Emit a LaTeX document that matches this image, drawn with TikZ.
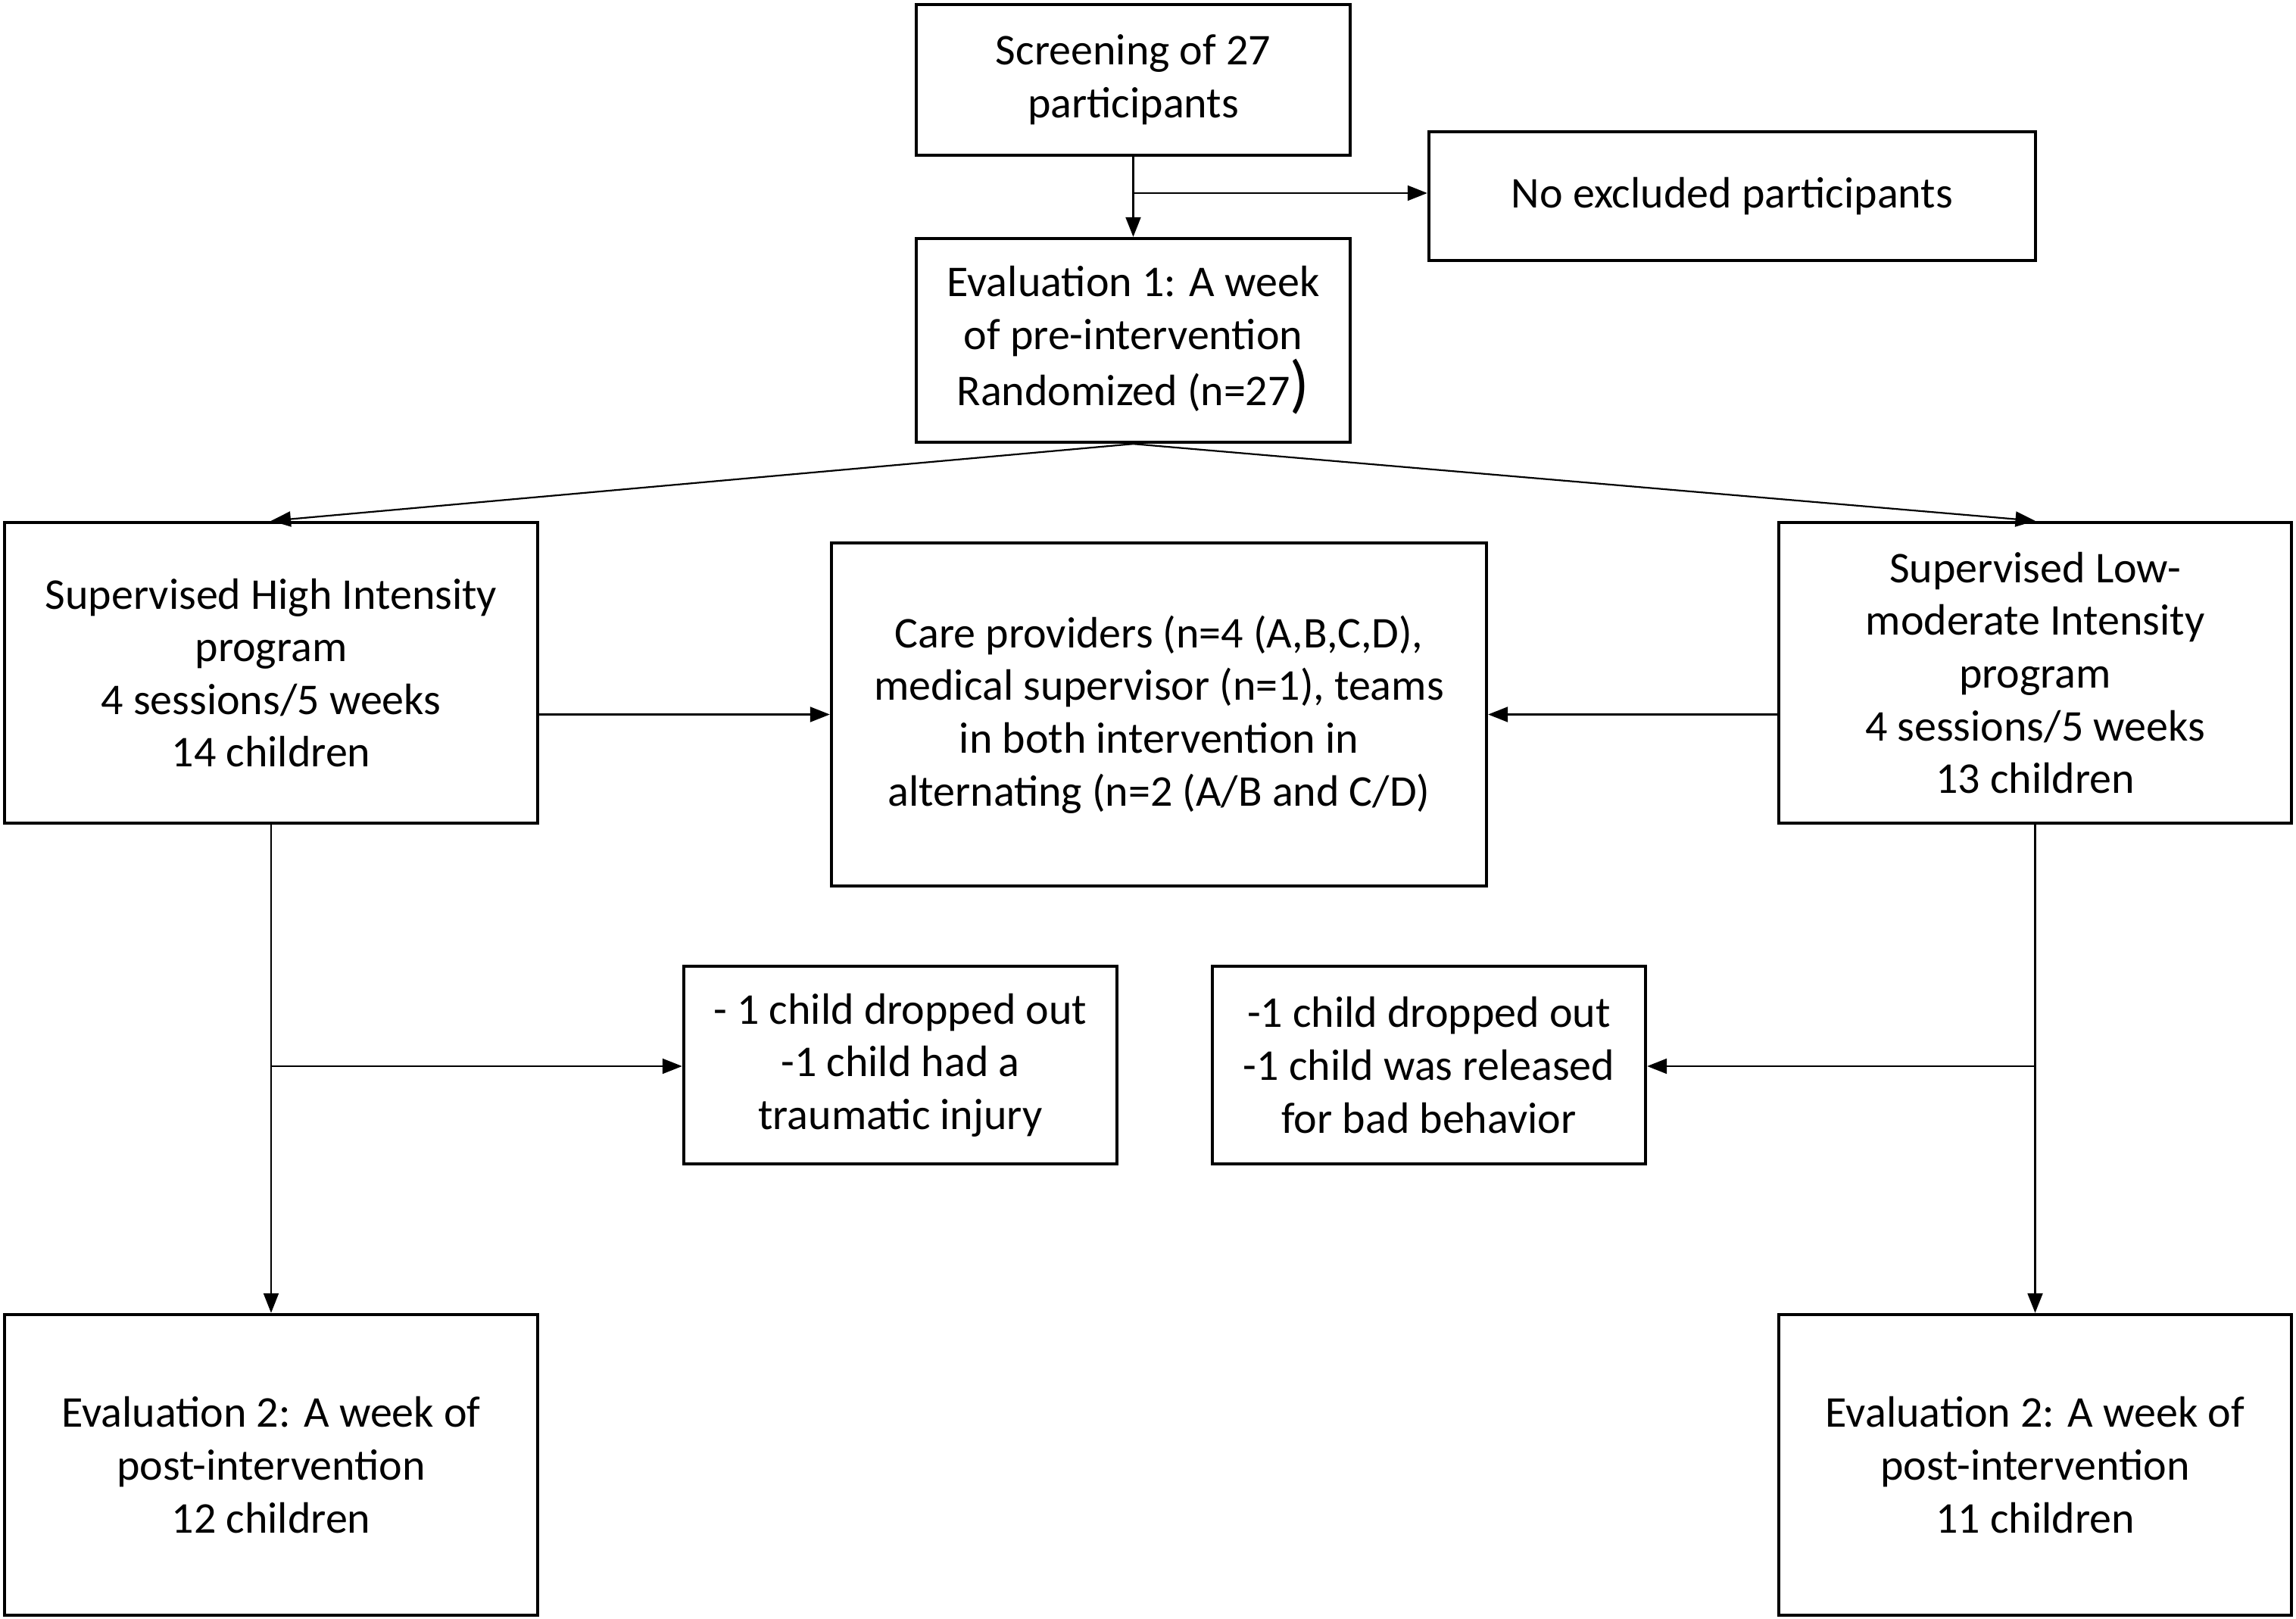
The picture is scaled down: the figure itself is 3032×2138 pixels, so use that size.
\documentclass[tikz,border=0pt]{standalone}
\usepackage{fontspec}
\setmainfont{Carlito}
\usetikzlibrary{arrows.meta,calc}
\begin{document}
\begin{tikzpicture}[x=0.25pt,y=-0.25pt,
  box/.style={draw=black,line width=1.1pt,fill=white,align=center,inner sep=0pt,
    font=\fontsize{14.5}{17.4}\selectfont},
  conn/.style={draw=black,line width=0.55pt},
  arr/.style={conn,-{Triangle[length=6.5pt,width=5pt]}}]
\useasboundingbox (0,0) rectangle (3032,2138);
\fill[white] (0,0) rectangle (3032,2138);
\node[box,minimum width=143.25pt,minimum height=49.75pt] (scr) at (1496.5,105.5) {Screening of 27\\participants};
\node[box,minimum width=200.25pt,minimum height=42.5pt] (exc) at (2287.5,259) {No excluded participants};
\node[box,minimum width=143.25pt,minimum height=67.25pt] (ev1) at (1496.5,449.5) {Evaluation 1: A week\\of pre-intervention\\Randomized (n=27{\fontsize{21}{21}\selectfont )}};
\node[box,minimum width=176pt,minimum height=99.25pt] (hi) at (358,888.5) {Supervised High Intensity\\program\\4 sessions/5 weeks\\14 children};
\node[box,minimum width=216.25pt,minimum height=113.25pt] (care) at (1530.5,943.5) {Care providers (n=4 (A,B,C,D),\\medical supervisor (n=1), teams\\in both intervention in\\alternating (n=2 (A/B and C/D)};
\node[box,minimum width=169.25pt,minimum height=99.25pt] (lo) at (2687.5,888.5) {Supervised Low-\\moderate Intensity\\program\\4 sessions/5 weeks\\13 children};
\node[box,minimum width=143pt,minimum height=65.25pt] (dl) at (1189,1406.5) {- 1 child dropped out\\-1 child had a\\traumatic injury};
\node[box,minimum width=143pt,minimum height=65.25pt] (dr) at (1887,1406.5) {-1 child dropped out\\-1 child was released\\for bad behavior};
\node[box,minimum width=176pt,minimum height=99.25pt] (e2l) at (358,1934.5) {Evaluation 2: A week of\\post-intervention\\12 children};
\node[box,minimum width=169.25pt,minimum height=99.25pt] (e2r) at (2687.5,1934.5) {Evaluation 2: A week of\\post-intervention\\11 children};
\coordinate (b1) at (1496.5,255);
\coordinate (bl) at (358,1408);
\coordinate (br) at (2687.5,1408);
\draw[arr] (scr.south) -- (ev1.north);
\draw[arr] (b1) -- (b1 -| exc.west);
\draw[arr] (ev1.south) -- (hi.north);
\draw[arr] (ev1.south) -- (lo.north);
\draw[arr] (hi.east |- care.west) -- (care.west);
\draw[arr] (lo.west |- care.east) -- (care.east);
\draw[arr] (hi.south) -- (e2l.north);
\draw[arr] (bl) -- (bl -| dl.west);
\draw[arr] (lo.south) -- (e2r.north);
\draw[arr] (br) -- (br -| dr.east);
\end{tikzpicture}
\end{document}
